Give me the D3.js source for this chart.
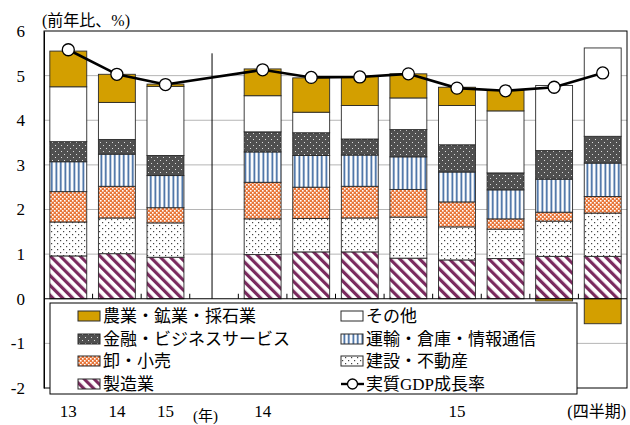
<!DOCTYPE html>
<html><head><meta charset="utf-8">
<script src="https://cdn.jsdelivr.net/npm/d3@7"></script>
<style>
body{margin:0;background:#fff}
svg{display:block}
text{font-family:"Liberation Serif","Noto Sans CJK JP",serif;fill:#000}
</style>
</head><body>
<svg id="c" width="630" height="425"></svg>
<script>
// ---- data ----
const periods = ["2013","2014","2015","2014Q1","2014Q2","2014Q3","2014Q4","2015Q1","2015Q2","2015Q3","2015Q4"];
const xDomain = ["2013","2014","2015","sep","2014Q1","2014Q2","2014Q3","2014Q4","2015Q1","2015Q2","2015Q3","2015Q4"];
const xTickLabels = ["13","14","15","","14","","","","15","","",""];
const yTicks = [-2,-1,0,1,2,3,4,5,6];

const manufacturing = [0.96,1.01,0.93,0.99,1.05,1.05,0.91,0.87,0.90,0.95,0.95];
const construction  = [0.76,0.80,0.77,0.80,0.75,0.76,0.92,0.74,0.66,0.79,0.97];
const retail        = [0.68,0.71,0.34,0.82,0.70,0.71,0.62,0.56,0.23,0.20,0.37];
const transport     = [0.67,0.72,0.72,0.68,0.71,0.70,0.73,0.67,0.65,0.74,0.75];
const finance       = [0.45,0.33,0.45,0.45,0.51,0.36,0.61,0.61,0.38,0.64,0.60];
const other         = [1.23,0.83,1.55,0.81,0.46,0.75,0.71,0.88,1.39,1.46,1.98];
const agriculture   = [0.80,0.63,0.05,0.60,0.77,0.65,0.54,0.41,0.46,-0.05,-0.56];
const gdp           = [5.58,5.03,4.80,5.13,4.96,4.97,5.04,4.72,4.66,4.74,5.06];

const seriesKeys = ["mfg","con","ret","tra","fin","oth","agr"];
const seriesNames = {
  agr:"農業・鉱業・採石業", oth:"その他", fin:"金融・ビジネスサービス",
  tra:"運輸・倉庫・情報通信", ret:"卸・小売", con:"建設・不動産", mfg:"製造業"
};
const seriesValues = {mfg:manufacturing,con:construction,ret:retail,tra:transport,fin:finance,oth:other,agr:agriculture};

const rows = periods.map((p,i)=>{
  const r = {period:p};
  seriesKeys.forEach(k=>r[k]=seriesValues[k][i]);
  r.gdp = gdp[i];
  return r;
});

// ---- chart ----
const svg = d3.select("#c");
const L=44, R=627, T=31, B=388;

const defs = svg.append("defs");
const pm = defs.append("pattern").attr("id","p-mfg").attr("patternUnits","userSpaceOnUse")
  .attr("width",7).attr("height",7).attr("patternTransform","rotate(-45)");
pm.append("rect").attr("width",7).attr("height",7).attr("fill","#fff");
pm.append("rect").attr("width",3.2).attr("height",7).attr("fill","#7a2a5e");
const pc = defs.append("pattern").attr("id","p-con").attr("patternUnits","userSpaceOnUse").attr("width",6).attr("height",6);
pc.append("rect").attr("width",6).attr("height",6).attr("fill","#fff");
pc.append("rect").attr("x",0).attr("y",0).attr("width",1.2).attr("height",1.2).attr("fill","#444");
pc.append("rect").attr("x",3).attr("y",3).attr("width",1.2).attr("height",1.2).attr("fill","#444");
const pr = defs.append("pattern").attr("id","p-ret").attr("patternUnits","userSpaceOnUse").attr("width",4).attr("height",4);
pr.append("rect").attr("width",4).attr("height",4).attr("fill","#e8763a");
pr.append("rect").attr("x",0).attr("y",0).attr("width",1.6).attr("height",1.6).attr("fill","#fff");
pr.append("rect").attr("x",2).attr("y",2).attr("width",1.6).attr("height",1.6).attr("fill","#fff");
const pt = defs.append("pattern").attr("id","p-tra").attr("patternUnits","userSpaceOnUse").attr("width",4.5).attr("height",4);
pt.append("rect").attr("width",4.5).attr("height",4).attr("fill","#fff");
pt.append("rect").attr("x",1.5).attr("width",1.6).attr("height",4).attr("fill","#2f5d98");
const pf = defs.append("pattern").attr("id","p-fin").attr("patternUnits","userSpaceOnUse").attr("width",6).attr("height",6);
pf.append("rect").attr("width",6).attr("height",6).attr("fill","#505050");
pf.append("rect").attr("x",1).attr("y",1).attr("width",1).attr("height",1).attr("fill","#ddd");
pf.append("rect").attr("x",4).attr("y",4).attr("width",1).attr("height",1).attr("fill","#ddd");

const fills = {mfg:"url(#p-mfg)",con:"url(#p-con)",ret:"url(#p-ret)",tra:"url(#p-tra)",fin:"url(#p-fin)",oth:"#fff",agr:"#d39f00"};

const x = d3.scaleBand().domain(xDomain).range([L,R]).paddingInner(0.24).paddingOuter(0.12);
const y = d3.scaleLinear().domain([-2,6]).range([B,T]);

// gridlines
svg.append("g").selectAll("line").data(yTicks.filter(v=>v!==0 && v!==-2 && v!==6)).join("line")
  .attr("x1",L).attr("x2",R).attr("y1",d=>y(d)).attr("y2",d=>y(d))
  .attr("stroke","#b5b5b5").attr("stroke-width",1);

// y axis
const yAxis = svg.append("g").attr("transform",`translate(${L},0)`)
  .call(d3.axisLeft(y).tickValues(yTicks).tickSize(0).tickPadding(19).tickFormat(d=>String(d)));
yAxis.select(".domain").attr("stroke","#000");
yAxis.selectAll("text").style("font-family","Liberation Serif").style("font-size","17px");

// bars
const stack = d3.stack().keys(seriesKeys).offset(d3.stackOffsetDiverging);
const stacked = stack(rows);
svg.append("g").selectAll("g").data(stacked).join("g")
  .attr("fill",s=>fills[s.key])
  .selectAll("rect").data(s=>s).join("rect")
  .attr("x",d=>x(d.data.period))
  .attr("width",x.bandwidth())
  .attr("y",d=>y(Math.max(d[0],d[1])))
  .attr("height",d=>Math.abs(y(d[0])-y(d[1])))
  .attr("stroke","#2a2a2a").attr("stroke-width",0.9);

// zero line and ticks at band boundaries
svg.append("line").attr("x1",L).attr("x2",R).attr("y1",y(0)).attr("y2",y(0)).attr("stroke","#000").attr("stroke-width",1.2);
const step = x.step();
const boundaries = xDomain.slice(1).map(k=>x(k) - x.paddingInner()*step/2);
svg.append("g").selectAll("line").data(boundaries).join("line")
  .attr("x1",d=>d).attr("x2",d=>d).attr("y1",y(0)).attr("y2",y(0)-5)
  .attr("stroke","#000").attr("stroke-width",1);

// separator
const sx = x("sep")+x.bandwidth()/2-2;
svg.append("line").attr("x1",sx).attr("x2",sx).attr("y1",y(5.5)).attr("y2",y(0)).attr("stroke","#000").attr("stroke-width",1);

// gdp line
const cx = d=>x(d.period)+x.bandwidth()/2;
svg.append("path").datum(rows)
  .attr("d",d3.line().x(cx).y(d=>y(d.gdp)))
  .attr("fill","none").attr("stroke","#000").attr("stroke-width",2.6);
svg.append("g").selectAll("circle").data(rows).join("circle")
  .attr("cx",cx).attr("cy",d=>y(d.gdp)).attr("r",6)
  .attr("fill","#fff").attr("stroke","#000").attr("stroke-width",1.3);

// plot border
svg.append("rect").attr("x",L).attr("y",T).attr("width",R-L).attr("height",B-T)
  .attr("fill","none").attr("stroke","#000").attr("stroke-width",1);

// x labels
svg.append("g").selectAll("text").data(xDomain).join("text")
  .attr("x",d=>x(d)+x.bandwidth()/2).attr("y",417)
  .attr("text-anchor","middle").style("font-size","17px")
  .text((d,i)=>xTickLabels[i]);
svg.append("text").attr("x",193).attr("y",421).style("font-size","15px").text("(年)");
svg.append("text").attr("x",626).attr("y",417).attr("text-anchor","end").style("font-size","16px").text("(四半期)");

// unit label
svg.append("text").attr("x",42).attr("y",26).style("font-size","16px").text("(前年比、%)");

// legend
const lg = svg.append("g");
lg.append("rect").attr("x",50).attr("y",303).attr("width",527).attr("height",91)
  .attr("fill","#fff").attr("stroke","#000").attr("stroke-width",1);
const legendItems = [
  {k:"agr",col:0,row:0},{k:"fin",col:0,row:1},{k:"ret",col:0,row:2},{k:"mfg",col:0,row:3},
  {k:"oth",col:1,row:0},{k:"tra",col:1,row:1},{k:"con",col:1,row:2},{k:"gdp",col:1,row:3}
];
const colX = [78,341], rowY = [316,339,361,384];
legendItems.forEach(it=>{
  const gx = colX[it.col], gy = rowY[it.row];
  if(it.k==="gdp"){
    lg.append("line").attr("x1",gx).attr("x2",gx+23).attr("y1",gy).attr("y2",gy).attr("stroke","#000").attr("stroke-width",2.4);
    lg.append("circle").attr("cx",gx+11.5).attr("cy",gy).attr("r",5).attr("fill","#fff").attr("stroke","#000").attr("stroke-width",1.3);
    lg.append("text").attr("x",gx+25).attr("y",gy+6).style("font-size","17px").text("実質GDP成長率");
  } else {
    lg.append("rect").attr("x",gx).attr("y",gy-5).attr("width",22).attr("height",10)
      .attr("fill",fills[it.k]).attr("stroke","#2a2a2a").attr("stroke-width",1);
    lg.append("text").attr("x",gx+25).attr("y",gy+6).style("font-size","17px").text(seriesNames[it.k]);
  }
});
</script>
</body></html>
